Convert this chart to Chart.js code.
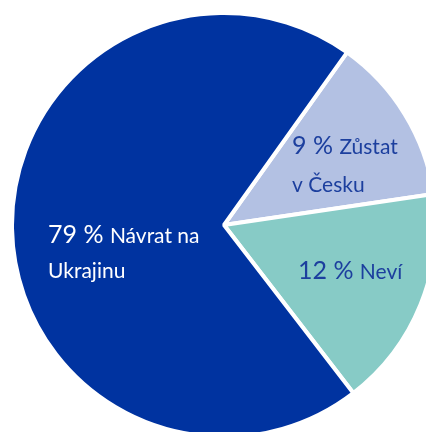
<!DOCTYPE html>
<html>
<head>
<meta charset="utf-8">
<script src="https://cdn.jsdelivr.net/npm/chart.js@4"></script>
<style>
  html, body { margin: 0; padding: 0; background: #fff; width: 426px; height: 432px; overflow: hidden; }
  #wrap { position: absolute; left: 10px; top: 11px; width: 428px; height: 428px; }
</style>
</head>
<body>
<div id="wrap"><canvas id="pieChart" width="428" height="428"></canvas></div>
<script>
// slice order goes clockwise, starting at the upper right
const categories = ['Zůstat v Česku', 'Neví', 'Návrat na Ukrajinu'];
const shares = [12.8, 16.9, 70.3];          // slice sizes as drawn
const percentTexts = ['9 %', '12 %', '79 %'];  // printed values
const wordLines = [['Zůstat', 'v Česku'], ['Neví'], ['Návrat na', 'Ukrajinu']];
const sliceColors = ['#b3c1e3', '#87cbc6', '#0033a0'];
const textColors = ['#1c3f9e', '#1c3f9e', '#ffffff'];

// where each label block starts, in units of the radius from the centre
const labelAnchors = [
    { x: 0.321, y: -0.335, lineGap: 38 },
    { x: 0.349, y: 0.255, lineGap: 36 },
    { x: -0.830, y: 0.085, lineGap: 35 }
];

const FONT = 'Lato, "Open Sans", sans-serif';

const sliceLabels = {
    id: 'sliceLabels',
    afterDatasetsDraw(chart) {
        const ctx = chart.ctx;
        const arcs = chart.getDatasetMeta(0).data;
        ctx.save();
        ctx.textBaseline = 'alphabetic';
        ctx.textAlign = 'left';
        arcs.forEach((arc, i) => {
            const r = arc.outerRadius;
            const a = labelAnchors[i];
            let x = arc.x + a.x * r;
            let y = arc.y + a.y * r;
            ctx.fillStyle = textColors[i];
            wordLines[i].forEach((line, li) => {
                let lx = x;
                if (li === 0) {
                    ctx.font = '25px ' + FONT;
                    ctx.fillText(percentTexts[i], lx, y);
                    lx += ctx.measureText(percentTexts[i] + ' ').width;
                }
                ctx.font = '21px ' + FONT;
                ctx.fillText(line, lx, y + li * a.lineGap);
            });
        });
        ctx.restore();
    }
};

new Chart(document.getElementById('pieChart'), {
    type: 'pie',
    data: {
        labels: categories,
        datasets: [{
            data: shares,
            backgroundColor: sliceColors,
            borderColor: '#ffffff',
            borderWidth: 4
        }]
    },
    options: {
        responsive: false,
        animation: false,
        rotation: 35.5,
        events: [],
        layout: { padding: 0 },
        plugins: {
            legend: { display: false },
            tooltip: { enabled: false }
        }
    },
    plugins: [sliceLabels]
});
</script>
</body>
</html>
